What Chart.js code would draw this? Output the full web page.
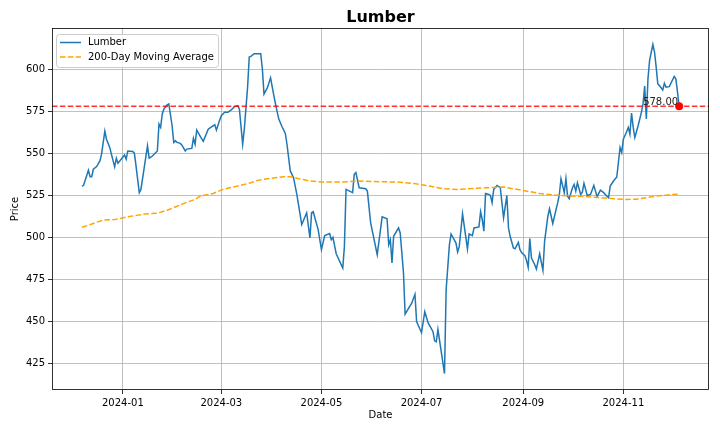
<!DOCTYPE html>
<html><head><meta charset="utf-8">
<script src="https://cdn.jsdelivr.net/npm/chart.js@4.4.1/dist/chart.umd.min.js"></script>
<style>html,body{margin:0;padding:0;background:#fff}canvas{display:block}</style>
</head><body>
<canvas id="c" width="720" height="432"></canvas>
<script>
const chartTitle = 'Lumber';
const seriesName = 'Lumber';
const maName = '200-Day Moving Average';
const xAxisTitle = 'Date';
const yAxisTitle = 'Price';

const lumberDates = [
'2023-12-07','2023-12-08','2023-12-11','2023-12-12','2023-12-13','2023-12-14','2023-12-16','2023-12-18','2023-12-19','2023-12-21',
'2023-12-22','2023-12-24','2023-12-25','2023-12-27','2023-12-28','2023-12-29','2024-01-02','2024-01-03','2024-01-04','2024-01-07',
'2024-01-08','2024-01-09','2024-01-11','2024-01-12','2024-01-16','2024-01-17','2024-01-19','2024-01-22','2024-01-23','2024-01-24',
'2024-01-25','2024-01-26','2024-01-28','2024-01-29','2024-01-31','2024-02-01','2024-02-02','2024-02-03','2024-02-05','2024-02-06',
'2024-02-08','2024-02-09','2024-02-12','2024-02-13','2024-02-14','2024-02-15','2024-02-17','2024-02-19','2024-02-22','2024-02-24',
'2024-02-26','2024-02-27','2024-02-29','2024-03-01','2024-03-03','2024-03-05','2024-03-07','2024-03-09','2024-03-11','2024-03-12',
'2024-03-14','2024-03-15','2024-03-17','2024-03-18','2024-03-19','2024-03-21','2024-03-25','2024-03-26','2024-03-27','2024-03-29',
'2024-03-31','2024-04-02','2024-04-03','2024-04-05','2024-04-07','2024-04-09','2024-04-10','2024-04-12','2024-04-14','2024-04-16',
'2024-04-17','2024-04-19','2024-04-22','2024-04-24','2024-04-25','2024-04-26','2024-04-29','2024-05-01','2024-05-03','2024-05-06',
'2024-05-07','2024-05-08','2024-05-10','2024-05-14','2024-05-15','2024-05-16','2024-05-20','2024-05-21','2024-05-22','2024-05-24',
'2024-05-28','2024-05-29','2024-05-31','2024-06-04','2024-06-07','2024-06-10','2024-06-11','2024-06-12','2024-06-13','2024-06-14',
'2024-06-17','2024-06-18','2024-06-20','2024-06-21','2024-06-25','2024-06-27','2024-06-28','2024-07-01','2024-07-03','2024-07-05',
'2024-07-08','2024-07-09','2024-07-10','2024-07-11','2024-07-15','2024-07-16','2024-07-18','2024-07-19','2024-07-22','2024-07-23',
'2024-07-24','2024-07-26','2024-07-29','2024-07-30','2024-08-01','2024-08-02','2024-08-05','2024-08-06','2024-08-07','2024-08-08',
'2024-08-09','2024-08-11','2024-08-12','2024-08-13','2024-08-14','2024-08-16','2024-08-18','2024-08-20','2024-08-22','2024-08-23',
'2024-08-24','2024-08-26','2024-08-27','2024-08-29','2024-08-30','2024-08-31','2024-09-02','2024-09-03','2024-09-04','2024-09-05',
'2024-09-06','2024-09-08','2024-09-09','2024-09-11','2024-09-13','2024-09-14','2024-09-16','2024-09-17','2024-09-19','2024-09-22',
'2024-09-23','2024-09-24','2024-09-26','2024-09-27','2024-09-28','2024-09-29','2024-10-01','2024-10-02','2024-10-03','2024-10-04',
'2024-10-06','2024-10-07','2024-10-08','2024-10-10','2024-10-12','2024-10-14','2024-10-16','2024-10-18','2024-10-20','2024-10-22',
'2024-10-23','2024-10-24','2024-10-26','2024-10-28','2024-10-30','2024-10-31','2024-11-01','2024-11-03','2024-11-04','2024-11-05',
'2024-11-06','2024-11-07','2024-11-08','2024-11-10','2024-11-12','2024-11-13','2024-11-14','2024-11-15','2024-11-16','2024-11-17',
'2024-11-19','2024-11-20','2024-11-21','2024-11-22','2024-11-23','2024-11-25','2024-11-26','2024-11-27','2024-11-29','2024-12-02',
'2024-12-03','2024-12-04','2024-12-05'
];
const lumberValues = [
530.5,530.9,539.9,536.1,536.1,540.5,542.1,545.5,549.5,563.2,
558.4,553.5,549.5,541.9,547.1,544.1,549.0,546.5,551.4,551.1,
550.1,542.5,526.6,528.5,554.4,547.1,548.4,551.4,567.4,565.4,
573.4,576.4,578.8,579.4,566.4,556.5,557.4,556.5,555.9,554.8,
551.4,552.5,552.9,559.0,555.4,563.8,560.4,557.1,564.4,565.8,
567.0,563.8,569.8,572.4,574.4,574.4,575.8,577.8,578.4,576.4,
555.4,564.4,589.4,607.3,607.7,609.3,609.3,600.3,585.3,588.9,
594.9,584.3,579.4,570.4,565.8,561.8,555.4,539.5,535.5,525.5,
519.6,507.6,514.6,499.6,514.6,515.2,504.6,492.6,501.0,502.2,
498.6,500.0,490.2,481.7,494.6,528.5,526.6,537.5,538.5,529.5,
528.9,527.5,508.6,489.7,512.2,511.0,495.6,498.6,484.7,500.6,
505.6,502.6,479.0,454.2,460.8,466.1,449.8,443.2,455.7,449.2,
443.8,438.4,437.8,445.2,418.9,468.7,495.6,502.0,496.6,491.3,
494.6,514.0,493.1,502.0,501.0,505.6,506.2,515.2,510.6,503.6,
526.1,525.5,524.9,520.6,528.5,530.9,529.5,511.6,524.9,505.6,
500.6,493.7,493.2,497.0,492.6,491.0,489.1,486.2,482.1,499.2,
487.7,483.7,481.1,490.2,480.3,497.6,512.6,517.0,508.2,520.6,
525.5,534.9,526.6,534.9,524.5,523.0,529.5,531.5,527.5,532.5,
525.5,526.9,532.1,524.9,525.5,530.9,524.2,528.1,526.6,524.5,
523.6,530.5,533.5,535.9,553.5,550.5,558.4,562.8,565.4,561.4,
574.0,565.4,559.4,566.4,574.4,579.4,590.0,570.4,594.3,605.3,
614.8,610.3,601.3,591.3,590.3,587.7,591.7,589.4,589.7,595.7,
594.3,586.4,578.0
];

const maDates = [
'2023-12-07','2023-12-11','2023-12-16','2023-12-20','2023-12-27','2024-01-04','2024-01-10','2024-01-16','2024-01-22','2024-01-28',
'2024-02-03','2024-02-09','2024-02-14','2024-02-17','2024-02-25','2024-03-02','2024-03-11','2024-03-19','2024-03-23','2024-03-31',
'2024-04-08','2024-04-12','2024-04-16','2024-04-24','2024-05-02','2024-05-13','2024-05-23','2024-06-06','2024-06-16','2024-06-26',
'2024-07-06','2024-07-14','2024-07-23','2024-08-02','2024-08-10','2024-08-20','2024-09-01','2024-09-11','2024-09-21','2024-10-02',
'2024-10-10','2024-10-18','2024-10-26','2024-11-03','2024-11-09','2024-11-15','2024-11-21','2024-11-27','2024-12-04'
];
const maValues = [
506.0,507.2,509.0,510.2,510.6,512.2,513.2,514.0,514.4,516.1,
518.5,520.9,522.5,524.5,526.1,528.5,530.5,532.5,533.9,535.1,
536.1,536.1,535.1,533.5,532.9,532.9,533.5,533.1,532.9,532.1,
530.5,528.9,528.5,529.1,529.5,529.9,527.9,526.1,525.1,524.5,
524.2,523.6,523.0,522.5,522.7,523.6,524.5,525.1,525.7
];

const xTickLabels = ['2024-01','2024-03','2024-05','2024-07','2024-09','2024-11'];
const yTickValues = [425,450,475,500,525,550,575,600];
const latestLevel = 578.00;

function ts(s){const p=s.split('-').map(Number);return Date.UTC(p[0],p[1]-1,p[2]||1);}
function fmtMonth(v){const d=new Date(v);return d.getUTCFullYear()+'-'+String(d.getUTCMonth()+1).padStart(2,'0');}

const lumberPts = lumberDates.map((d,i)=>({x:ts(d),y:lumberValues[i]}));
const maPts = maDates.map((d,i)=>({x:ts(d),y:maValues[i]}));
const xFirst = lumberPts[0].x, xLast = lumberPts[lumberPts.length-1].x;
const xPad = (xLast-xFirst)*0.05;
const xMin = xFirst-xPad, xMax = xLast+xPad;
const allY = lumberValues.concat(maValues);
const yLo = Math.min(...allY), yHi = Math.max(...allY);
const yPad = (yHi-yLo)*0.05;
const yMin = yLo-yPad, yMax = yHi+yPad;
const lastPt = lumberPts[lumberPts.length-1];

const FONT = "'DejaVu Sans', sans-serif";
Chart.defaults.font.family = FONT;
Chart.defaults.font.size = 10;
Chart.defaults.color = '#000';

const decor = {
  id:'decor',
  afterDraw(chart){
    const c = chart.ctx, a = chart.chartArea;
    c.save();
    // frame
    c.strokeStyle = '#000'; c.lineWidth = 0.8; c.setLineDash([]);
    c.strokeRect(a.left+0.5, a.top+0.5, a.right-a.left-1, a.bottom-a.top-1);
    // title
    c.fillStyle = '#000';
    c.font = "bold 16px " + FONT;
    c.textAlign = 'center'; c.textBaseline = 'alphabetic';
    c.fillText(chartTitle, (a.left+a.right)/2, 22);
    // axis titles
    c.font = "10px " + FONT;
    c.textBaseline = 'middle';
    c.fillText(xAxisTitle, (a.left+a.right)/2, 415);
    c.save();
    c.translate(15, (a.top+a.bottom)/2);
    c.rotate(-Math.PI/2);
    c.fillText(yAxisTitle, 0, 0);
    c.restore();
    // latest label
    const meta = chart.getDatasetMeta(0);
    const pt = meta.data[0];
    c.textAlign = 'right'; c.textBaseline = 'bottom';
    c.fillStyle = '#222';
    c.fillText(latestLevel.toFixed(2), pt.x - 1, pt.y + 1);
    // legend
    const lx = 56.5, ly = 34.5, lw = 162, lh = 33;
    c.beginPath();
    if (c.roundRect) c.roundRect(lx, ly, lw, lh, 3); else c.rect(lx, ly, lw, lh);
    c.fillStyle = 'rgba(255,255,255,0.8)'; c.fill();
    c.strokeStyle = '#cccccc'; c.lineWidth = 1; c.stroke();
    c.lineWidth = 1.5;
    c.strokeStyle = '#1f77b4'; c.beginPath(); c.moveTo(60,42.5); c.lineTo(81,42.5); c.stroke();
    c.strokeStyle = '#ffa500'; c.setLineDash([5.5,2.4]); c.beginPath(); c.moveTo(60,57); c.lineTo(81,57); c.stroke();
    c.setLineDash([]);
    c.fillStyle = '#000'; c.textAlign = 'left'; c.textBaseline = 'middle';
    c.fillText(seriesName, 88, 42.5);
    c.fillText(maName, 88, 57);
    c.restore();
  }
};

const gridOpts = {color:'#b0b0b0', lineWidth:0.8, tickColor:'#000', tickLength:4, drawTicks:true};

new Chart(document.getElementById('c'), {
  type:'line',
  data:{datasets:[
    {label:'latest', data:[lastPt], showLine:false, pointRadius:4, pointBackgroundColor:'#ff0000', pointBorderWidth:0, borderColor:'#ff0000', order:0},
    {label:'level', data:[{x:xMin,y:latestLevel},{x:xMax,y:latestLevel}], borderColor:'rgba(255,0,0,0.8)', borderWidth:1.5, borderDash:[5.5,2.4], pointRadius:0, order:1},
    {label:maName, data:maPts, borderColor:'#ffa500', borderWidth:1.5, borderDash:[5.5,2.4], pointRadius:0, tension:0, order:2},
    {label:seriesName, data:lumberPts, borderColor:'#1f77b4', borderWidth:1.5, pointRadius:0, tension:0, order:3}
  ]},
  options:{
    responsive:false, animation:false, devicePixelRatio:1,
    layout:{padding:{top:28,right:11,left:0,bottom:0}},
    plugins:{legend:{display:false}, title:{display:false}, tooltip:{enabled:false}},
    scales:{
      x:{type:'linear', min:xMin, max:xMax,
        afterBuildTicks:ax=>{ax.ticks = xTickLabels.map(l=>({value:ts(l)}));},
        ticks:{callback:v=>fmtMonth(v), autoSkip:false, maxRotation:0, minRotation:0, padding:3, color:'#000', font:{size:10}},
        grid:gridOpts, border:{display:false},
        afterFit:s=>{s.height=42;}
      },
      y:{type:'linear', min:yMin, max:yMax,
        afterBuildTicks:ax=>{ax.ticks = yTickValues.map(v=>({value:v}));},
        ticks:{callback:v=>String(v), padding:3, color:'#000', font:{size:10}},
        grid:gridOpts, border:{display:false},
        afterFit:s=>{s.width=52;}
      }
    }
  },
  plugins:[decor]
});
</script>
</body></html>
